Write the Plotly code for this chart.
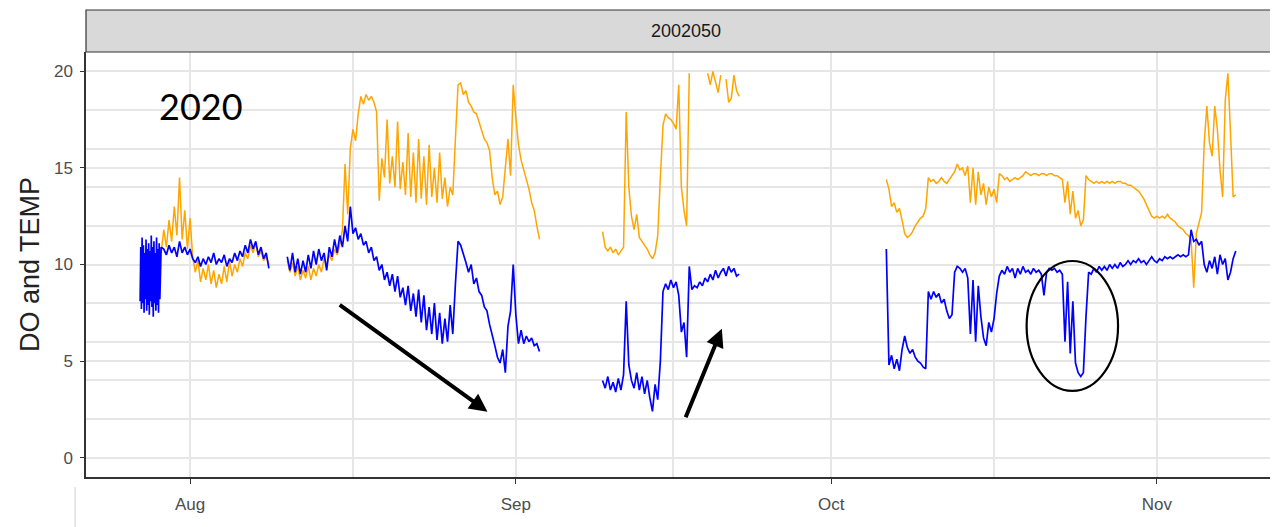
import pandas as pd
import plotly.graph_objects as go

# ---------------- data ----------------
BASE_DATE = "2020-08-01"          # day offsets below are counted from this date
STRIP_LABEL = "2002050"
YEAR_LABEL = "2020"
MONTH_TICKS = ["2020-08-01", "2020-09-01", "2020-10-01", "2020-11-01"]
MONTH_LABELS = ["Aug", "Sep", "Oct", "Nov"]
MONTH_MINOR = ["2020-08-16 12:00", "2020-09-16", "2020-10-16 12:00"]
Y_TICKS = [0, 5, 10, 15, 20]
Y_MINOR = [2, 4, 6, 8, 12, 14, 16, 18]

# each segment: (start day offset, sampling step in days, values)
do_burst = [8.1, 10.9, 7.7, 11.4, 8.0, 11.0, 7.5, 10.6, 8.2, 11.3, 7.6, 10.8,
            7.9, 11.1, 7.4, 10.7, 8.1, 11.5, 7.8, 10.9, 7.3, 11.2, 8.0, 10.6,
            7.6, 11.4, 7.9, 10.8, 7.5, 11.1, 8.2, 10.7, 10.9]
do_seg1 = [10.9, 10.8, 10.5, 11.0, 10.6, 10.9, 10.4, 11.2, 10.6, 10.9, 10.5,
           10.8, 10.3, 10.1, 10.4, 9.9, 10.3, 10.0, 10.4, 10.1, 10.6,
           10.0, 10.3, 10.1, 10.5, 9.9, 10.3, 10.1, 10.6, 10.2, 10.7,
           10.4, 11.0, 10.6, 11.3, 10.8, 11.2, 10.5, 10.9, 10.3, 10.6, 9.8]
temp_seg1 = [10.6, 11.8, 10.9, 12.3, 11.2, 13.0, 11.5, 14.5, 11.3, 12.8,
             10.8, 12.4, 10.4, 9.6, 10.2, 9.1, 9.8, 9.2, 10.0, 9.0,
             9.7, 8.8, 9.5, 9.0, 9.9, 9.1, 10.2, 9.4, 10.0, 9.6,
             10.3, 9.9, 10.6, 10.3, 11.0, 10.6, 11.1, 10.4, 10.7, 10.2,
             10.4, 10.0]

do_seg2 = [10.4, 9.7, 10.6, 9.6, 10.3, 9.5, 10.2, 9.6, 10.5, 9.8,
           10.7, 10.0, 10.8, 10.2, 10.6, 9.7, 10.9, 10.4, 11.3, 10.6,
           11.5, 10.9, 12.0, 11.2, 13.0, 11.6, 11.9, 11.3, 11.6, 11.0,
           11.2, 10.6, 10.9, 10.2, 10.4, 9.7, 10.0, 9.2, 9.6, 8.9,
           9.5, 8.6, 9.4, 8.3, 8.8, 7.9, 8.9, 7.6, 8.5, 7.3,
           8.7, 7.0, 8.4, 6.6, 7.8, 6.4, 8.0, 6.1, 7.5, 5.9,
           7.2, 6.0, 7.9, 6.4, 9.0, 11.2, 11.0, 10.6, 10.1, 9.6,
           10.0, 9.0, 9.3, 8.6, 8.4, 7.8, 7.6, 6.9, 6.4, 5.8,
           5.2, 4.9, 5.6, 4.4, 6.8, 7.6, 10.0, 7.4, 5.9, 6.6,
           5.9, 6.3, 6.0, 6.2, 5.8, 5.9, 5.5]
temp_seg2 = [10.2, 9.6, 10.1, 9.4, 9.9, 9.2, 9.7, 9.3, 9.9, 9.2,
             9.8, 9.4, 10.0, 9.6, 10.3, 9.9, 10.5, 10.2, 10.8, 10.5,
             11.0, 11.8, 15.2, 12.6, 16.0, 17.0, 16.4, 17.8, 18.7, 18.3,
             18.8, 18.5, 18.7, 18.4, 17.9, 13.3, 15.5, 14.5, 17.5, 14.2,
             15.6, 14.0, 17.4, 13.9, 15.3, 13.6, 16.8, 13.5, 15.8, 13.2,
             16.5, 13.4, 15.6, 13.1, 16.2, 13.5, 15.0, 13.2, 15.8, 13.4,
             14.5, 13.0, 14.0, 13.6, 16.5, 19.3, 19.4, 18.8, 19.0, 18.4,
             18.2, 17.9, 17.8, 17.4, 17.0, 16.5, 16.3, 15.9, 14.5, 13.6,
             13.8, 13.1, 13.5, 15.0, 16.5, 14.6, 19.3, 17.6, 16.2, 15.4,
             14.9, 14.3, 13.9, 13.2, 12.8, 12.0, 11.3]

do_seg3 = [4.0, 3.6, 4.2, 3.5, 3.9, 3.4, 4.1, 3.5, 4.3, 8.1,
           4.8, 4.0, 3.6, 4.4, 3.5, 4.2, 3.3, 4.0, 3.1, 2.4,
           3.8, 3.0, 5.0, 8.6, 9.0, 8.7, 9.2, 8.8, 9.1, 8.4,
           6.5, 7.0, 5.2, 9.9, 8.7, 8.9, 8.8, 9.1, 8.9, 9.3,
           9.1, 9.5, 9.2, 9.7, 9.3, 9.6, 9.8, 9.4, 9.9, 9.6,
           9.8, 9.4, 9.5]
# None = reading above the 0-20 scale limit (dropped, as in the source)
temp_seg3 = [11.7, 10.9, 10.7, 10.9, 10.6, 10.8, 10.5, 10.7, 10.9, 17.9,
             14.0, 12.5, 11.8, 12.6, 11.4, 11.2, 11.0, 10.8, 10.5, 10.3,
             10.6, 11.5, 14.5, 17.2, 17.8, 17.6, 17.5, 17.3, 17.0, 19.3,
             14.0, 12.8, 12.0, 19.9, None, None, None, None, None, None,
             19.9, 19.3, 20.0, 19.4, 18.9, 19.8, None, 19.6, 18.4, 18.6,
             19.8, 19.0, 18.7]

do_seg4 = [10.8, 4.8, 5.3, 4.6, 5.1, 4.5, 5.6, 6.3,
           5.7, 5.4, 5.6, 5.2, 5.0, 4.9, 4.7, 4.6,
           8.6, 8.2, 8.6, 8.3, 8.5, 8.0, 8.2, 7.6,
           7.2, 7.4, 9.6, 9.9, 9.8, 9.6, 9.8, 9.3,
           6.4, 9.2, 6.0, 8.9, 7.3, 6.2, 5.8, 7.0,
           6.5, 7.2, 8.5, 9.4, 9.7, 9.5, 9.9, 9.6,
           9.8, 9.3, 9.8, 9.5, 9.9, 9.6, 9.7, 9.5,
           9.8, 9.6, 9.7, 9.5, 8.4, 9.6, 9.8, 9.7,
           9.8, 9.6, 9.7, 9.5, 6.0, 9.1, 5.4, 8.1,
           4.9, 4.4, 4.2, 4.4, 7.3, 9.6, 9.5, 9.8,
           9.6, 9.9, 9.7, 9.9, 9.7, 10.0, 9.8, 10.0,
           9.8, 10.1, 9.9, 10.0, 10.2, 10.0, 10.2, 10.1,
           10.3, 10.1, 10.2, 10.0, 10.2, 10.4, 10.2, 10.1,
           10.3, 10.2, 10.4, 10.3, 10.4, 10.3, 10.4, 10.5,
           10.4, 10.5, 10.4, 10.5, 11.8, 11.2, 11.3, 11.0,
           11.2, 10.0, 9.6, 10.2, 9.8, 10.4, 9.5, 10.5,
           10.0, 10.3, 9.2, 9.6, 10.3, 10.7]
temp_seg4 = [14.4, 13.9, 13.0, 13.2, 12.7, 12.9, 12.3, 11.6,
             11.4, 11.5, 11.7, 12.0, 12.2, 12.4, 12.5, 12.9,
             14.5, 14.3, 14.4, 14.2, 14.3, 14.5, 14.3, 14.2,
             14.4, 14.6, 14.8, 15.2, 14.9, 15.0, 14.6, 15.1,
             13.2, 15.0, 13.1, 14.8, 13.6, 14.2, 13.1, 14.0,
             13.5, 13.9, 13.2, 14.7, 14.6, 14.4, 14.5, 14.3,
             14.4, 14.5, 14.4, 14.5, 14.6, 14.8, 14.7, 14.6,
             14.7, 14.7, 14.6, 14.7, 14.7, 14.6, 14.7, 14.7,
             14.6, 14.6, 14.5, 14.4, 13.2, 14.3, 12.6, 13.8,
             12.4, 12.8, 12.0, 12.3, 14.6, 14.4, 14.3, 14.2,
             14.3, 14.2, 14.3, 14.2, 14.3, 14.2, 14.3, 14.2,
             14.3, 14.3, 14.2, 14.2, 14.1, 14.1, 14.0, 13.9,
             13.8, 13.6, 13.4, 13.1, 12.8, 12.5, 12.4, 12.5,
             12.4, 12.5, 12.4, 12.6, 12.4, 12.3, 12.2, 12.0,
             11.9, 11.8, 11.6, 11.5, 11.3, 8.8, 11.6, 12.2,
             12.7, 16.3, 18.2, 16.3, 15.6, 18.2, 17.0, 14.9,
             13.5, 18.5, 19.9, 16.8, 13.5, 13.6]

temp_segments = [(-2.75, 0.25, temp_seg1), (9.25, 0.25, temp_seg2),
                 (39.25, 0.25, temp_seg3), (66.25, 0.25, temp_seg4)]
do_segments = [(-4.75, 0.0625, do_burst), (-2.75, 0.25, do_seg1),
               (9.25, 0.25, do_seg2), (39.25, 0.25, do_seg3),
               (66.25, 0.25, do_seg4)]

# annotation anchors (day offset, value)
arrow_down = ((14.1, 7.96), (28.3, 2.38))   # tail, head
arrow_up = ((47.1, 2.02), (50.6, 6.67))
ellipse_box = ((79.6, 3.46), (88.3, 10.18))
year_label_pos = (1.0, 18.2)
x_range_days = (-9.9, 104.28)

# ---------------- figure ----------------
base = pd.Timestamp(BASE_DATE)


def when(day):
    return base + pd.to_timedelta(day, unit="D")


def times(start, step, values):
    return [when(start + step * i) for i in range(len(values))]


fig = go.Figure()
for start, step, vals in temp_segments:
    fig.add_trace(go.Scatter(x=times(start, step, vals), y=vals, mode="lines",
                             line=dict(color="#FFA500", width=1.5),
                             showlegend=False, hoverinfo="skip"))
for start, step, vals in do_segments:
    fig.add_trace(go.Scatter(x=times(start, step, vals), y=vals, mode="lines",
                             line=dict(color="#0000FF", width=1.7),
                             showlegend=False, hoverinfo="skip"))

GRID = "#e6e6e6"
AXC = "#333333"
TICKFONT = dict(family="Liberation Sans, Arial, sans-serif", size=17, color="#4d4d4d")

# the page body has an 8px default margin, so margins are reduced by 8px
fig.update_layout(
    width=1278, height=527,
    margin=dict(l=78, r=0, t=44, b=58),
    paper_bgcolor="white", plot_bgcolor="white",
    xaxis=dict(
        type="date",
        range=[when(x_range_days[0]), when(x_range_days[1])],
        tickmode="array", tickvals=MONTH_TICKS, ticktext=MONTH_LABELS,
        showgrid=True, gridcolor=GRID, gridwidth=1.6,
        minor=dict(tickvals=MONTH_MINOR, showgrid=True, gridcolor=GRID,
                   gridwidth=1.6, ticks=""),
        ticks="outside", ticklen=5, tickcolor=AXC, tickwidth=1,
        showline=True, linecolor=AXC, linewidth=1.5,
        zeroline=False, tickfont=TICKFONT, ticklabelstandoff=6,
    ),
    yaxis=dict(
        range=[-1, 21],
        tickmode="array", tickvals=Y_TICKS,
        showgrid=True, gridcolor=GRID, gridwidth=1.6,
        minor=dict(tickvals=Y_MINOR, showgrid=True, gridcolor=GRID,
                   gridwidth=1.6, ticks=""),
        ticks="outside", ticklen=4, tickcolor=AXC, tickwidth=1,
        showline=True, linecolor=AXC, linewidth=1.5,
        zeroline=False, tickfont=TICKFONT, ticklabelstandoff=4,
        title=dict(text="DO and TEMP", standoff=6,
                   font=dict(family="Liberation Sans, Arial, sans-serif",
                             size=27, color="#222222")),
    ),
)

# facet strip
fig.add_shape(type="rect", xref="paper", yref="paper", x0=0, x1=1.005,
              y0=1.0, y1=1.0988, fillcolor="#d9d9d9",
              line=dict(color=AXC, width=1.2), layer="above")
fig.add_annotation(xref="paper", yref="paper", x=0.5, y=1.0494,
                   xanchor="center", yanchor="middle",
                   text=STRIP_LABEL, showarrow=False,
                   font=dict(family="Liberation Sans, Arial, sans-serif",
                             size=18, color="#1a1a1a"))

# hand-drawn style annotations
fig.add_annotation(x=when(year_label_pos[0]), y=year_label_pos[1], text=YEAR_LABEL,
                   showarrow=False,
                   font=dict(family="Lato, Carlito, sans-serif", size=36, color="black"))
for (tail, head) in (arrow_down, arrow_up):
    fig.add_annotation(x=when(head[0]), y=head[1], ax=when(tail[0]), ay=tail[1],
                       xref="x", yref="y", axref="x", ayref="y", text="",
                       showarrow=True, arrowhead=2, arrowsize=0.9,
                       arrowwidth=4, arrowcolor="black", standoff=0)
fig.add_shape(type="circle", xref="x", yref="y",
              x0=when(ellipse_box[0][0]), x1=when(ellipse_box[1][0]),
              y0=ellipse_box[0][1], y1=ellipse_box[1][1],
              line=dict(color="black", width=2.2))

# faint crop artefact line at lower left of the source picture
fig.add_shape(type="line", xref="paper", yref="paper", x0=-0.0091, x1=-0.0091,
              y0=-0.0235, y1=-0.13, line=dict(color="#d0d0d0", width=1))

fig.write_html("out.html")
